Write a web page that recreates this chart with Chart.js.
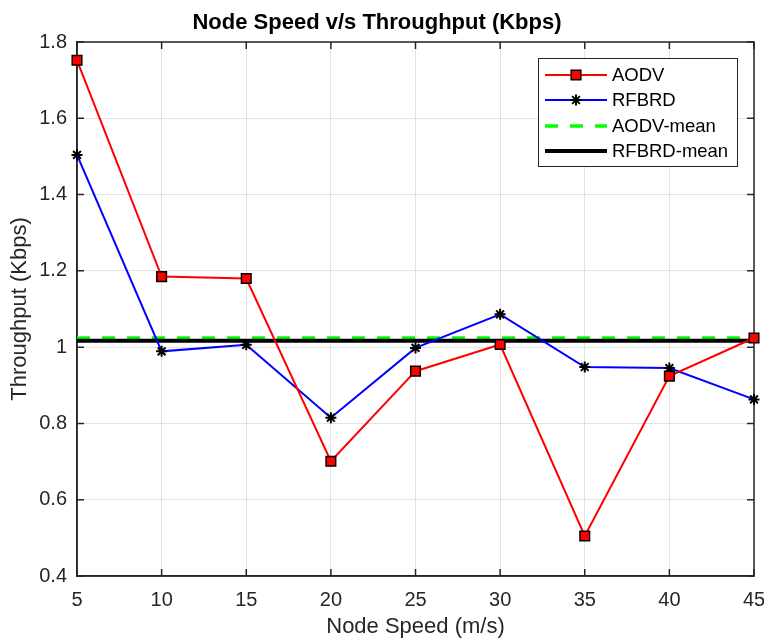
<!DOCTYPE html>
<html>
<head>
<meta charset="utf-8">
<script src="https://cdn.jsdelivr.net/npm/chart.js@4/dist/chart.umd.min.js"></script>
<style>
  html, body { margin: 0; padding: 0; background: #fff; }
</style>
</head>
<body>
<canvas id="lineChart" width="764" height="640"></canvas>
<script>
var speeds = [5, 10, 15, 20, 25, 30, 35, 40, 45];
var aodv = [1.752, 1.185, 1.180, 0.701, 0.937, 1.007, 0.505, 0.924, 1.024];
var rfbrd = [1.504, 0.989, 1.006, 0.815, 0.998, 1.086, 0.948, 0.945, 0.863];
var aodvMean = 1.024;
var rfbrdMean = 1.017;
var xTickLabels = ['5', '10', '15', '20', '25', '30', '35', '40', '45'];
var yTickLabels = ['0.4', '0.6', '0.8', '1', '1.2', '1.4', '1.6', '1.8'];

var FONT = "'Liberation Sans', Arial, Helvetica, sans-serif";
var AXIS = '#262626';

function pts(ys) {
    return speeds.map(function (x, i) { return { x: x, y: ys[i] }; });
}
function flat(v) {
    return [{ x: speeds[0], y: v }, { x: speeds[speeds.length - 1], y: v }];
}

// box round the axes plus inward ticks, matlab style
var framePlugin = {
    id: 'frame',
    beforeDatasetsDraw: function (chart) {
        var c = chart.ctx, a = chart.chartArea;
        var sx = chart.scales.x, sy = chart.scales.y;
        var tl = 7;
        c.save();
        c.strokeStyle = AXIS;
        c.lineWidth = 1.5;
        c.strokeRect(a.left, a.top, a.right - a.left, a.bottom - a.top);
        c.beginPath();
        speeds.forEach(function (v) {
            var px = sx.getPixelForValue(v);
            c.moveTo(px, a.bottom); c.lineTo(px, a.bottom - tl);
            c.moveTo(px, a.top); c.lineTo(px, a.top + tl);
        });
        yTickLabels.forEach(function (t) {
            var py = sy.getPixelForValue(parseFloat(t));
            c.moveTo(a.left, py); c.lineTo(a.left + tl, py);
            c.moveTo(a.right, py); c.lineTo(a.right - tl, py);
        });
        c.stroke();
        c.restore();
    }
};

var legendPlugin = {
    id: 'boxLegend',
    afterDraw: function (chart) {
        var c = chart.ctx;
        var bx = 538, by = 58, bw = 199, bh = 108;
        var rows = [75, 100, 126, 151];
        c.save();
        c.fillStyle = '#fff';
        c.fillRect(bx, by, bw, bh);
        c.strokeStyle = AXIS;
        c.lineWidth = 1;
        c.strokeRect(bx + 0.5, by + 0.5, bw, bh);
        chart.data.datasets.forEach(function (ds, i) {
            var y = rows[i];
            c.save();
            c.strokeStyle = ds.borderColor;
            c.lineWidth = ds.borderWidth;
            c.setLineDash(ds.borderDash || []);
            c.beginPath();
            c.moveTo(545, y); c.lineTo(607, y);
            c.stroke();
            c.restore();
            if (ds.pointRadius > 0) {
                c.save();
                c.fillStyle = ds.pointBackgroundColor;
                c.strokeStyle = ds.pointBorderColor;
                c.lineWidth = ds.pointBorderWidth;
                Chart.helpers.drawPoint(c, { pointStyle: ds.pointStyle, radius: ds.pointRadius, borderWidth: ds.pointBorderWidth, rotation: 0 }, 576, y);
                c.restore();
            }
            c.fillStyle = '#000';
            c.font = '18.5px ' + FONT;
            c.textBaseline = 'middle';
            c.fillText(ds.label, 612, y + 1);
        });
        c.restore();
    }
};

var ctx = document.getElementById('lineChart').getContext('2d');
var myChart = new Chart(ctx, {
    type: 'line',
    data: {
        datasets: [
            {
                label: 'AODV',
                data: pts(aodv),
                borderColor: 'rgb(255, 0, 0)',
                borderWidth: 2,
                pointStyle: 'rect',
                pointRadius: 6.8,
                pointBackgroundColor: 'rgb(255, 0, 0)',
                pointBorderColor: '#000',
                pointBorderWidth: 1.5,
                clip: false,
                order: 2
            },
            {
                label: 'RFBRD',
                data: pts(rfbrd),
                borderColor: 'rgb(0, 0, 255)',
                borderWidth: 2,
                pointStyle: 'star',
                pointRadius: 5.5,
                pointBackgroundColor: '#000',
                pointBorderColor: '#000',
                pointBorderWidth: 2,
                clip: false,
                order: 3
            },
            {
                label: 'AODV-mean',
                data: flat(aodvMean),
                borderColor: 'rgb(0, 255, 0)',
                borderWidth: 3.5,
                borderDash: [13, 12],
                pointRadius: 0,
                order: 5
            },
            {
                label: 'RFBRD-mean',
                data: flat(rfbrdMean),
                borderColor: '#000',
                borderWidth: 4,
                pointRadius: 0,
                order: 4
            }
        ]
    },
    options: {
        responsive: false,
        animation: false,
        layout: { padding: { left: 0, right: 10, top: 0, bottom: 0 } },
        plugins: {
            legend: { display: false },
            tooltip: { enabled: false },
            title: {
                display: true,
                text: 'Node Speed v/s Throughput (Kbps)',
                color: '#000',
                font: { family: FONT, size: 22, weight: 'bold' },
                padding: { top: 10, bottom: 5.6 }
            }
        },
        scales: {
            x: {
                type: 'linear',
                min: 5,
                max: 45,
                afterFit: function (s) { s.height = 64; s.paddingLeft = 0; s.paddingRight = 0; },
                afterBuildTicks: function (s) { s.ticks = speeds.map(function (v) { return { value: v }; }); },
                ticks: {
                    color: AXIS,
                    padding: 12,
                    maxRotation: 0,
                    font: { family: FONT, size: 20 },
                    callback: function (v, i) { return xTickLabels[i]; }
                },
                grid: { color: 'rgba(38,38,38,0.13)', drawTicks: false },
                border: { color: AXIS, width: 1.5 },
                title: {
                    display: true,
                    text: 'Node Speed (m/s)',
                    color: AXIS,
                    font: { family: FONT, size: 22 },
                    padding: { top: 0, bottom: 0 }
                }
            },
            y: {
                type: 'linear',
                min: 0.4,
                max: 1.8,
                afterFit: function (s) { s.width = 77; },
                afterBuildTicks: function (s) { s.ticks = yTickLabels.map(function (t) { return { value: parseFloat(t) }; }); },
                ticks: {
                    color: AXIS,
                    padding: 10,
                    font: { family: FONT, size: 20 },
                    callback: function (v, i) { return yTickLabels[i]; }
                },
                grid: { color: 'rgba(38,38,38,0.13)', drawTicks: false },
                border: { color: AXIS, width: 1.5 },
                title: {
                    display: true,
                    text: 'Throughput (Kbps)',
                    color: AXIS,
                    font: { family: FONT, size: 22 },
                    padding: { top: 7, bottom: 0 }
                }
            }
        }
    },
    plugins: [framePlugin, legendPlugin]
});
</script>
</body>
</html>
